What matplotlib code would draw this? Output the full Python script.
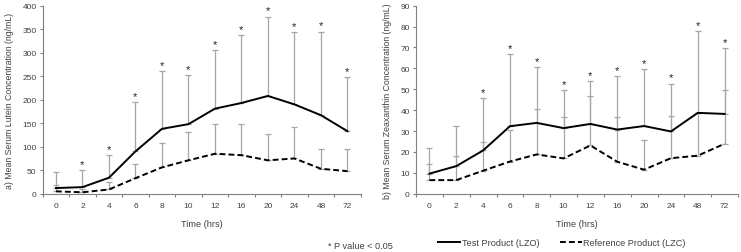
import matplotlib
matplotlib.use("Agg")
import matplotlib.pyplot as plt
from matplotlib.lines import Line2D
import numpy as np

plt.rcParams['font.family'] = ['Liberation Sans', 'DejaVu Sans']

categories = ["0", "2", "4", "6", "8", "10", "12", "16", "20", "24", "48", "72"]

# Panel a) Lutein (ng/mL)
lut_test_mean = [12, 14, 34, 90, 138, 148, 181, 193, 208, 190, 167, 133]
lut_test_upper = [46, 50, 83, 195, 260, 252, 305, 337, 377, 343, 345, 248]
lut_ref_mean = [5, 3, 9, 33, 56, 71, 85, 82, 71, 75, 53, 48]
lut_ref_upper = [19, 9, 24, 64, 108, 131, 149, 149, 126, 141, 96, 96]
lut_sig = [False, True, True, True, True, True, True, True, True, True, True, True]

# Panel b) Zeaxanthin (ng/mL)
zea_test_mean = [9.6, 13.2, 20.7, 32.3, 33.9, 31.4, 33.4, 30.7, 32.4, 29.8, 38.7, 38.2]
zea_test_upper = [21.8, 32.3, 45.7, 66.7, 60.5, 49.7, 53.8, 56.2, 59.7, 52.7, 77.7, 69.6]
zea_ref_mean = [6.5, 6.5, 11.0, 15.4, 18.8, 16.9, 23.1, 15.3, 11.5, 17.0, 18.2, 23.9]
zea_ref_upper = [14.0, 18.2, 24.7, 30.6, 40.4, 36.9, 46.7, 36.9, 25.5, 37.4, 38.5, 49.7]
zea_sig = [False, False, True, True, True, True, True, True, True, True, True, True]

W, H = 741, 253
fig = plt.figure(figsize=(W / 100, H / 100), dpi=100)

tick_fs = 6.0
label_fs = 6.6
ylabel_fs = 6.3
spine_col = '#808080'
txt_col = '#404040'
err_col = '#a6a6a6'


def panel(rect, tm, tu, rm, ru, sig, ylim, ystep, ylabel):
    ax = fig.add_axes(rect)
    x = np.arange(len(categories)) + 0.5
    tm = np.array(tm); tu = np.array(tu); rm = np.array(rm); ru = np.array(ru)
    ax.errorbar(x, tm, yerr=[np.zeros_like(tm), tu - tm], fmt='none',
                ecolor=err_col, elinewidth=0.9, capsize=2.0, capthick=0.9, zorder=1)
    ax.errorbar(x, rm, yerr=[np.zeros_like(rm), ru - rm], fmt='none',
                ecolor=err_col, elinewidth=0.9, capsize=2.0, capthick=0.9, zorder=1)
    ax.plot(x, tm, color='black', lw=1.4, zorder=3)
    ax.plot(x, rm, color='black', lw=1.4, ls=(0, (3, 1.6)), zorder=3)
    for xi, ui, s in zip(x, tu, sig):
        if s:
            ax.annotate('*', xy=(xi, ui), xytext=(0, 0.8), textcoords='offset points',
                        ha='center', va='bottom', fontsize=8, color='#202020')
    ax.set_xlim(0, len(categories))
    ax.set_ylim(*ylim)
    ax.set_xticks(x)
    ax.set_xticklabels(categories)
    ax.set_xticks(np.arange(len(categories) + 1), minor=True)
    ax.tick_params(axis='x', which='major', length=0, pad=6, labelsize=tick_fs, labelcolor=txt_col)
    ax.tick_params(axis='x', which='minor', length=2.5, direction='out', color=spine_col, width=0.8)
    ax.set_yticks(np.arange(ylim[0], ylim[1] + ystep / 2, ystep))
    ax.tick_params(axis='y', length=2.5, direction='out', color=spine_col, width=0.8,
                   labelsize=tick_fs, labelcolor=txt_col, pad=2)
    for s in ['top', 'right']:
        ax.spines[s].set_visible(False)
    for s in ['left', 'bottom']:
        ax.spines[s].set_color(spine_col)
        ax.spines[s].set_linewidth(0.8)
    ax.set_xlabel('Time (hrs)', fontsize=label_fs, color=txt_col, labelpad=7)
    ax.set_ylabel(ylabel, fontsize=ylabel_fs, color=txt_col, labelpad=6)
    return ax


panel([42.7 / W, 1 - 194.7 / H, 318 / W, 188 / H],
      lut_test_mean, lut_test_upper, lut_ref_mean, lut_ref_upper, lut_sig,
      (0, 400), 50, 'a) Mean Serum Lutein Concentration (ng/mL)')
panel([416 / W, 1 - 194.7 / H, 322 / W, 188 / H],
      zea_test_mean, zea_test_upper, zea_ref_mean, zea_ref_upper, zea_sig,
      (0, 90), 10, 'b) Mean Serum Zeaxanthin Concentration (ng/mL)')

fig.text(328 / W, 1 - 246.5 / H, '* P value < 0.05', fontsize=label_fs, color=txt_col,
         ha='left', va='center')

handles = [Line2D([], [], color='black', lw=1.4),
           Line2D([], [], color='black', lw=1.4, ls=(0, (3, 1.6)))]
fig.legend(handles, ['Test Product (LZO)', 'Reference Product (LZC)'],
           loc='center', bbox_to_anchor=(562 / W, 1 - 244 / H), ncol=2, frameon=False,
           fontsize=label_fs, handlelength=2.4, handletextpad=0.2, columnspacing=2.2,
           labelcolor=txt_col, borderpad=0, borderaxespad=0)

fig.savefig('out.png', dpi=100)
